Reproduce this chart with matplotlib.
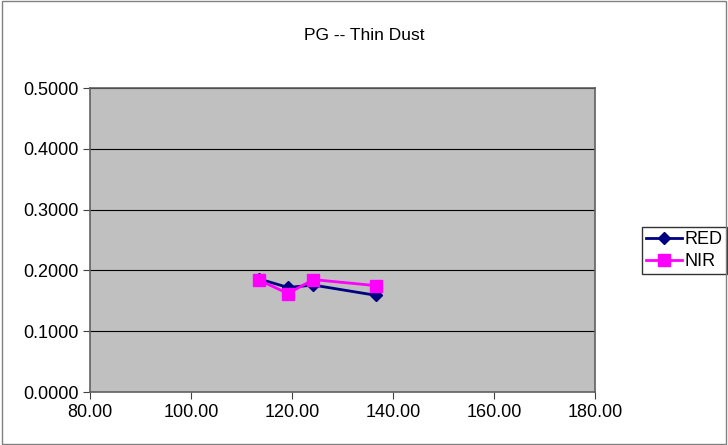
import matplotlib
matplotlib.use("Agg")
import matplotlib.pyplot as plt
from matplotlib.patches import Rectangle

plt.rcParams["font.family"] = ["Liberation Sans", "DejaVu Sans"]

red_x = [113.5, 119.2, 124.2, 136.7]
red_y = [0.1860, 0.1720, 0.1760, 0.1590]
nir_x = [113.5, 119.2, 124.2, 136.7]
nir_y = [0.1840, 0.1620, 0.1850, 0.1750]
x_ticks = [80, 100, 120, 140, 160, 180]
y_ticks = [0.0, 0.1, 0.2, 0.3, 0.4, 0.5]


def main():
    fig = plt.figure(figsize=(7.28, 4.45), dpi=100)
    fig.patches.append(Rectangle((0.003, 0.003), 0.994, 0.994, transform=fig.transFigure,
                                 fill=False, edgecolor="#808080", linewidth=1))
    ax = fig.add_axes([0.124, 0.119, 0.693, 0.683])
    ax.set_facecolor("#C0C0C0")

    ax.plot(red_x, red_y, color="#000080", marker="D", markersize=6, linewidth=2, label="RED")
    ax.plot(nir_x, nir_y, color="#FF00FF", marker="s", markersize=8, linewidth=2, label="NIR")

    ax.set_xlim(80, 180)
    ax.set_ylim(0, 0.5)
    ax.set_xticks(x_ticks)
    ax.set_yticks(y_ticks)
    ax.set_xticklabels([f"{v:.2f}" for v in x_ticks])
    ax.set_yticklabels([f"{v:.4f}" for v in y_ticks])
    ax.yaxis.grid(True, color="black", linewidth=0.8)
    ax.set_axisbelow(True)
    ax.tick_params(labelsize=13, direction="out", length=5, color="#404040")
    for s in ax.spines.values():
        s.set_color("#606060")
        s.set_linewidth(1.2)

    fig.text(0.5, 0.92, "PG -- Thin Dust", ha="center", va="center", fontsize=12.5)

    ax.legend(loc="center left", bbox_to_anchor=(1.075, 0.465), fontsize=13,
              frameon=True, fancybox=False, edgecolor="black", handlelength=2,
              handletextpad=0.1, borderpad=0.25, labelspacing=0.25)

    fig.savefig("out.png", dpi=100)


if __name__ == "__main__":
    main()
